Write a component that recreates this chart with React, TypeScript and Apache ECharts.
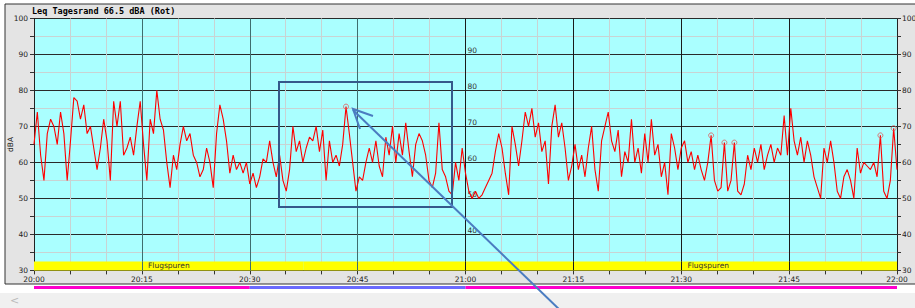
import React, { useEffect, useRef } from 'react';
import * as echarts from 'echarts';

// Leq samples, 20:00 - 21:00 (dBA)
const hour1: number[] = [
  65, 74, 62, 55, 68, 72, 70, 65, 74, 68, 55, 66, 78, 77, 72, 76, 68, 70, 64, 58,
  64, 72, 66, 55, 77, 70, 77, 62, 64, 67, 62, 70, 77, 65, 55, 72, 68, 80, 72, 69,
  60, 53, 62, 58, 65, 70, 66, 68, 62, 60, 56, 58, 64, 60, 53, 68, 76, 72, 66, 57,
  62, 58, 60, 57, 60, 54, 57, 53, 56, 61, 60, 66, 60, 56, 62, 55, 52, 58, 70, 63,
  66, 60, 64, 67, 66, 70, 63, 69, 55, 66, 60, 62, 59, 65, 75.5, 68, 60, 52, 56, 55,
  60, 64, 60, 66, 59, 56, 67, 62, 70, 60, 68, 62, 71, 63, 56, 65, 68, 66, 62, 55,
  53, 57, 71, 58, 56, 52, 51, 60, 55, 64, 57,
];
// Leq samples, 21:00 - 22:00 (dBA)
const hour2: number[] = [
  52, 50, 52, 50, 51, 53, 55, 57, 63, 68, 64, 57, 51, 70, 65, 59, 66, 74, 70, 75,
  67, 71, 63, 66, 54, 70, 76, 67, 71, 64, 55, 59, 65, 58, 62, 56, 64, 70, 58, 52,
  66, 70, 74, 66, 63, 69, 56, 63, 60, 72, 60, 64, 57, 68, 60, 72, 62, 65, 56, 60,
  51, 68, 64, 58, 64, 66, 60, 63, 58, 62, 58, 55, 60, 67.5, 55, 52, 53, 65.5, 52, 55,
  65.5, 52, 51, 54, 62, 58, 64, 60, 65, 58, 62, 65, 60, 64, 62, 73, 62, 75, 66, 62,
  67, 60, 66, 62, 56, 53, 50, 64, 60, 66, 60, 52, 50, 56, 58, 55, 50, 64, 57, 60,
  59, 58, 60, 56, 67.5, 52, 50, 55, 69.5, 58,
];
const levels: number[] = [...hour1, ...hour2];
// indices of marked peaks
const peakIdx: number[] = [94, 204, 208, 211, 255, 259];
const xTickLabels: string[] = ['20:00', '20:15', '20:30', '20:45', '21:00', '21:15', '21:30', '21:45', '22:00'];
// Flugspuren band segments [start min, end min, label]
const flugBands: [number, number, string][] = [
  [0, 37.5, 'Flugspuren'],
  [37.5, 67.5, ''],
  [67.5, 120, 'Flugspuren'],
];
// period colour bar [start min, end min, colour]
const periodBars: [number, number, string][] = [
  [0, 30, '#ff00cc'],
  [30, 60, '#6a6aff'],
  [60, 120, '#ff00cc'],
];
const majorMinutes: number[] = [15, 30, 45, 60, 75, 90, 105];

const TOTAL_MIN = 120;
const step = TOTAL_MIN / (levels.length - 1);

const FONT = 'DejaVu Sans';

export default function App() {
  const ref = useRef<HTMLDivElement>(null);
  useEffect(() => {
    if (!ref.current) return;
    const chart = echarts.init(ref.current, null, { renderer: 'svg' });
    const lineData = levels.map((v, i) => [i * step, v]);
    const peakData = peakIdx.map((i) => [i * step, levels[i]]);
    const vColors = ['#333333', '#3f6e6e', '#3f6e6e', '#3f6e6e', '#1a1a1a', '#1a1a1a', '#1a1a1a', '#1a1a1a', '#333333'];
    const labelStyle = { fontFamily: FONT, fontSize: 7.5, color: '#222' };
    const option: any = {
      animation: false,
      backgroundColor: '#ffffff',
      title: {
        text: 'Leq Tagesrand 66.5 dBA (Rot)',
        left: 32,
        top: 6,
        padding: 0,
        textStyle: { fontFamily: 'DejaVu Sans Mono', fontWeight: 'bold', fontSize: 8.5, color: '#000' },
      },
      grid: [
        { left: 34, right: 18, top: 18.4, height: 252, show: true, backgroundColor: '#aaffff', borderWidth: 0, containLabel: false, outerBoundsMode: 'none' },
        { left: 34, right: 18, top: 286, height: 3, containLabel: false, outerBoundsMode: 'none' },
      ],
      xAxis: [
        {
          type: 'value', gridIndex: 0, min: 0, max: TOTAL_MIN, interval: 15,
          axisLine: { show: true, lineStyle: { color: '#222', width: 1 } },
          axisTick: { show: true, length: 4, lineStyle: { color: '#333' } },
          minorTick: { show: true, splitNumber: 3, length: 4, lineStyle: { color: '#333' } },
          axisLabel: { ...labelStyle, margin: 5, formatter: (v: number) => xTickLabels[Math.round(v / 15)] ?? '' },
          splitLine: { show: true, lineStyle: { color: vColors, width: 1 } },
          minorSplitLine: { show: true, lineStyle: { color: '#c9d3d3', width: 1 } },
        },
        { type: 'value', gridIndex: 1, min: 0, max: TOTAL_MIN, show: false },
      ],
      yAxis: [
        {
          type: 'value', gridIndex: 0, min: 30, max: 100, interval: 10, position: 'left',
          name: 'dBA', nameLocation: 'middle', nameGap: 20, nameMoveOverlap: false,
          nameTextStyle: { fontFamily: FONT, fontSize: 7.5, color: '#222' },
          axisLine: { show: true, lineStyle: { color: '#222' } },
          axisTick: { show: true, length: 4, lineStyle: { color: '#333' } },
          minorTick: { show: true, splitNumber: 2, length: 4, lineStyle: { color: '#333' } },
          axisLabel: { ...labelStyle, margin: 6 },
          splitLine: { show: true, lineStyle: { color: '#2a2a2a', width: 1 } },
          minorSplitLine: { show: true, lineStyle: { color: '#c9d3d3', width: 1 } },
        },
        {
          type: 'value', gridIndex: 0, min: 30, max: 100, interval: 10, position: 'right',
          axisLine: { show: true, lineStyle: { color: '#222' } },
          axisTick: { show: true, length: 4, lineStyle: { color: '#333' } },
          minorTick: { show: true, splitNumber: 2, length: 4, lineStyle: { color: '#333' } },
          axisLabel: { ...labelStyle, margin: 5 },
          splitLine: { show: false },
        },
        {
          type: 'value', gridIndex: 0, min: 30, max: 100, interval: 10, position: 'right', offset: -431.5,
          axisLine: { show: false }, axisTick: { show: false },
          axisLabel: { ...labelStyle, color: '#333', margin: 2, verticalAlign: 'bottom', formatter: (v: number) => (v >= 100 ? '' : String(v)) },
          splitLine: { show: false },
        },
        { type: 'value', gridIndex: 1, min: 0, max: 1, show: false },
      ],
      series: [
        {
          type: 'line', xAxisIndex: 0, yAxisIndex: 0, data: lineData, showSymbol: false, z: 3,
          lineStyle: { color: '#ff0000', width: 1.1 },
          markArea: {
            silent: true,
            label: { show: true, position: 'inside', fontFamily: FONT, fontSize: 7.5, color: '#333' },
            data: flugBands.map(([a, b, name]) => [
              { xAxis: a, yAxis: 30, name, itemStyle: { color: '#ffff00', opacity: 1 } },
              { xAxis: b, yAxis: 32.5 },
            ]),
          },
          markLine: {
            silent: true, symbol: 'none', label: { show: false },
            lineStyle: { type: 'solid', width: 1 },
            data: majorMinutes.map((m) => [
              { coord: [m, 30], lineStyle: { color: m < 60 ? '#3f6e6e' : '#1a1a1a' } },
              { coord: [m, 32.5] },
            ]),
          },
        },
        {
          type: 'scatter', xAxisIndex: 0, yAxisIndex: 0, data: peakData, symbol: 'circle', symbolSize: 5, z: 4,
          itemStyle: { color: 'rgba(0,0,0,0)', borderColor: '#e05a5a', borderWidth: 1 },
        },
        {
          type: 'custom', xAxisIndex: 1, yAxisIndex: 3, data: periodBars.map((p) => [p[0], p[1]]),
          renderItem: (params: any, api: any) => {
            const s = api.coord([api.value(0), 1]);
            const e = api.coord([api.value(1), 0]);
            return {
              type: 'rect',
              shape: { x: s[0], y: s[1], width: e[0] - s[0], height: e[1] - s[1] },
              style: { fill: periodBars[params.dataIndex][2] },
            };
          },
        },
      ],
      graphic: [
        { type: 'rect', z: -5, shape: { x: 5, y: 4, width: 912, height: 280 }, style: { fill: '#e4e4e4', stroke: '#333', lineWidth: 1 } },
        { type: 'rect', z: -5, shape: { x: 0, y: 293, width: 915, height: 15 }, style: { fill: '#f0f0f0' } },
        { type: 'text', z: -4, x: 10, y: 295, style: { text: '<', fontSize: 11, fill: '#bbbbbb', fontFamily: FONT } },
        { type: 'rect', z: 100, shape: { x: 279, y: 82, width: 173, height: 125 }, style: { fill: 'none', stroke: '#35598a', lineWidth: 2 } },
        { type: 'line', z: 100, shape: { x1: 563, y1: 313, x2: 353, y2: 110 }, style: { stroke: '#4b7cc1', lineWidth: 2 } },
        { type: 'polyline', z: 100, shape: { points: [[373, 116], [353, 109], [360, 129]] }, style: { fill: 'none', stroke: '#4b7cc1', lineWidth: 2 } },
      ],
    };
    chart.setOption(option);
    return () => chart.dispose();
  }, []);
  return (
    <div style={{ position: 'fixed', left: 0, top: 0, width: 915, height: 308, background: '#fff' }}>
      <div ref={ref} style={{ width: 915, height: 308 }} />
    </div>
  );
}
